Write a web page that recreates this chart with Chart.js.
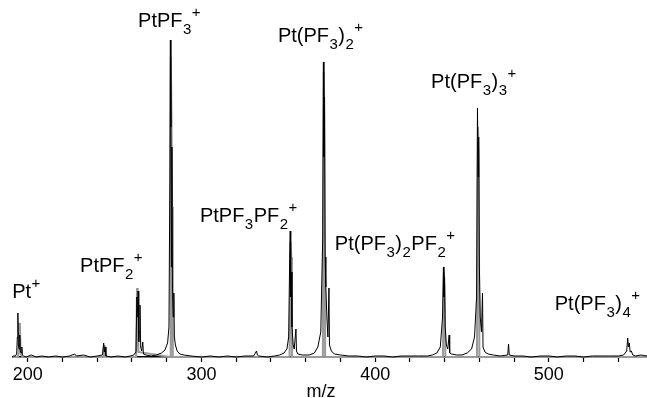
<!DOCTYPE html>
<html>
<head>
<meta charset="utf-8">
<script src="https://cdn.jsdelivr.net/npm/chart.js@4.4.1/dist/chart.umd.min.js"></script>
<style>
  html, body { margin: 0; padding: 0; background: #fff; }
  #c { display: block; }
</style>
</head>
<body>
<canvas id="c" width="647" height="398"></canvas>
<script>
// ---- data ----
const blackMz = [191.5,192.8,193.6,194.0,194.3,194.6,195.0,195.4,195.7,196.2,196.6,196.9,197.6,199,202,205,208,212,216,220,224,227,228,232,236,240,243,243.7,244.1,244.5,245,248,252,256,259,261,262.3,262.8,263.2,263.5,263.9,264.2,264.6,265,265.6,266.2,266.6,268,271,274,277,279,280.5,281.3,281.8,282.1,282.4,282.7,283.0,283.3,283.7,284.1,284.4,285,286,287.5,290,294,300,305,310,315,320,325,330,331.7,332.2,333,338,342,345,347.5,349.2,350.2,350.8,351.1,351.4,351.7,352.1,352.8,353.4,354.4,354.7,355.5,358,362,365,367,368.7,369.8,370.2,370.5,370.8,371.2,371.6,372.2,372.8,373.4,373.7,374.8,376.5,380,385,390,395,400,405,410,415,420,425,430,433,435.5,437.5,438.8,439.3,439.6,439.9,440.3,441,441.8,442.6,442.9,444,447,450,453,455.5,457.2,458.4,458.9,459.3,459.6,460,460.5,461.2,461.8,462.1,463.2,465,468,472,476.3,476.8,477.2,480,485,490,495,500,505,510,515,520,525,530,535,540,543,544.8,545.4,545.8,546.3,546.8,547.5,548.3,550,553,556.5];
const blackI  = [1,1,3,20,44,12,8,22,6,4,10,2,1,0,2,0,1,0,1,0,1,3,1,2,0,1,2,14,5,10,1,0,1,0,1,2,5,60,40,66,15,25,52,10,6,15,3,2,1,2,4,7,14,30,180,317,230,90,210,70,40,64,20,12,6,3,2,1,0,1,0,1,0,1,1,6,2,1,0,1,2,4,8,20,100,126,60,85,30,12,8,28,6,3,2,2,4,10,25,120,295,200,260,100,70,40,20,69,12,6,3,2,1,1,0,1,1,0,1,1,1,1,2,4,10,40,90,60,80,30,12,8,22,4,3,2,2,4,8,20,60,249,180,220,90,40,25,64,10,5,3,2,1,2,13,2,1,1,0,1,1,0,1,1,0,1,1,1,1,2,6,19,10,14,5,6,2,1,2,1];
const grayMz  = [191.5,194.3,194.7,195.1,195.5,195.9,197,243.5,243.9,244.3,262.4,262.9,263.3,263.7,281.9,282.3,282.7,283.1,283.5,350.7,351.3,351.7,352.1,369.9,370.4,370.8,371.2,439.0,439.6,440.0,440.4,458.6,459.2,459.6,460.0,556.5];
const grayI   = [0,0,5,34,30,3,0,0,12,0,0,69,50,5,0,300,250,150,0,0,115,100,0,0,285,240,0,0,85,70,0,0,230,200,0,0];

const majorTicks = [200, 300, 400, 500];
const minorTicks = [220, 240, 260, 280, 320, 340, 360, 380, 420, 440, 460, 480, 520, 540];
const xTitle = 'm/z';

// peak annotations: text (with _sub and ^sup), left edge in m/z, baseline in intensity units
const labelTexts = ['Pt^+', 'PtPF_2^+', 'PtPF_3^+', 'PtPF_3PF_2^+', 'Pt(PF_3)_2^+', 'Pt(PF_3)_2PF_2^+', 'Pt(PF_3)_3^+', 'Pt(PF_3)_4^+'];
const labelMz     = [191.0, 230.1, 263.5, 299.1, 344.0, 376.8, 432.2, 503.4];
const labelLevel  = [59, 85, 330, 135, 315, 107, 269, 47];
const xTitleMz = 368.8;

// ---- chart ----
const FONT = '"Liberation Sans", Arial, Helvetica, sans-serif';

function toPts(xs, ys) { return xs.map((x, i) => ({ x: x, y: ys[i] })); }

function parseLabel(s) {
  const parts = [];
  let i = 0, buf = '';
  while (i < s.length) {
    const ch = s[i];
    if (ch === '_' || ch === '^') {
      if (buf) { parts.push({ t: buf, k: 'n' }); buf = ''; }
      parts.push({ t: s[i + 1], k: ch === '_' ? 'sub' : 'sup' });
      i += 2;
    } else { buf += ch; i++; }
  }
  if (buf) parts.push({ t: buf, k: 'n' });
  return parts;
}

const labelPlugin = {
  id: 'peakLabels',
  afterDraw(chart) {
    const ctx = chart.ctx;
    const xs = chart.scales.x, ys = chart.scales.y;
    ctx.save();
    ctx.fillStyle = '#000';
    ctx.textBaseline = 'alphabetic';
    ctx.textAlign = 'left';
    labelTexts.forEach((txt, idx) => {
      let x = xs.getPixelForValue(labelMz[idx]);
      const y = ys.getPixelForValue(labelLevel[idx]);
      parseLabel(txt).forEach(p => {
        let dy = 0;
        if (p.k === 'n') { ctx.font = '20px ' + FONT; }
        else if (p.k === 'sub') { ctx.font = '15px ' + FONT; dy = 7; }
        else { ctx.font = '15px ' + FONT; dy = -10; }
        ctx.fillText(p.t, x, y + dy);
        x += ctx.measureText(p.t).width + 0.5;
      });
    });
    // axis title
    ctx.font = '18px ' + FONT;
    ctx.textAlign = 'center';
    ctx.fillText(xTitle, xs.getPixelForValue(xTitleMz), 397);
    ctx.restore();
  }
};

new Chart(document.getElementById('c'), {
  type: 'line',
  data: {
    datasets: [
      {
        data: toPts(grayMz, grayI),
        borderColor: '#9a9a9a',
        borderWidth: 2,
        pointRadius: 0,
        tension: 0,
        clip: false,
        order: 2
      },
      {
        data: toPts(blackMz, blackI),
        borderColor: '#000',
        borderWidth: 1,
        pointRadius: 0,
        tension: 0,
        clip: false,
        order: 1
      }
    ]
  },
  options: {
    responsive: false,
    devicePixelRatio: 1,
    animation: false,
    parsing: true,
    layout: { padding: { top: 7, left: 13, right: 0, bottom: 0 } },
    plugins: { legend: { display: false }, tooltip: { enabled: false } },
    scales: {
      x: {
        type: 'linear',
        min: 191.5,
        max: 556.5,
        afterBuildTicks(scale) {
          scale.ticks = majorTicks.concat(minorTicks).sort((a, b) => a - b).map(v => ({ value: v }));
        },
        afterFit(scale) { scale.height = 41; scale.paddingLeft = 0; scale.paddingRight = 0; },
        border: { display: true, color: '#000', width: 1.5 },
        grid: {
          display: true,
          drawOnChartArea: false,
          drawTicks: true,
          tickLength: 5,
          tickColor: '#000',
          tickWidth: 1.2
        },
        ticks: {
          autoSkip: false,
          maxRotation: 0,
          padding: 2,
          color: '#000',
          font: { family: FONT, size: 18 },
          callback: (v) => majorTicks.includes(v) ? String(v) : ''
        }
      },
      y: {
        display: false,
        min: 0,
        max: 350
      }
    }
  },
  plugins: [labelPlugin]
});
</script>
</body>
</html>
